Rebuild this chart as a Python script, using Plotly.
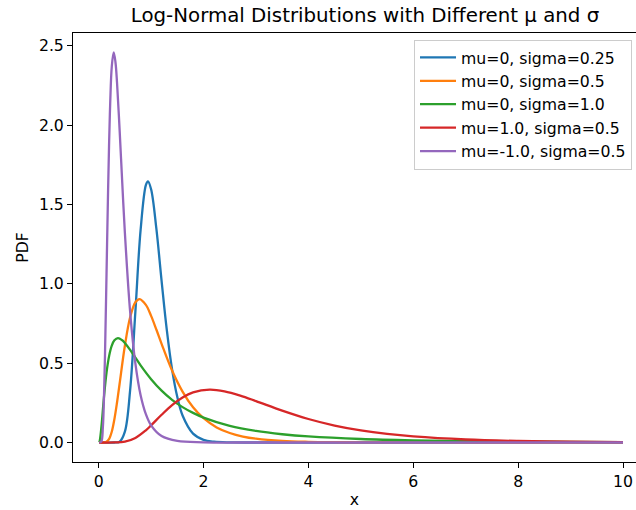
import plotly.graph_objects as go

# Values (PDF of each log-normal)
x_mu0_s025 = [0.01, 0.3, 0.4, 0.5, 0.6, 0.7, 0.8, 0.9, 0.94, 1.0, 1.1, 1.2, 1.3, 1.4, 1.5, 1.6, 1.8, 2.0, 2.2, 2.5, 3.0, 10.0]
y_mu0_s025 = [0.0, 0.0, 0.0048, 0.068, 0.330, 0.824, 1.340, 1.622, 1.646, 1.596, 1.349, 1.019, 0.708, 0.461, 0.286, 0.170, 0.056, 0.017, 0.005, 0.0008, 0.0, 0.0]

x_mu0_s05 = [0.01, 0.1, 0.15, 0.2, 0.25, 0.3, 0.35, 0.4, 0.5, 0.6, 0.7, 0.78, 0.9, 1.0, 1.1, 1.2, 1.4, 1.6, 1.8, 2.0, 2.25, 2.5, 2.75, 3.0, 3.5, 4.0, 4.5, 5.0, 6.0, 10.0]
y_mu0_s05 = [0.0, 0.0002, 0.004, 0.0225, 0.068, 0.147, 0.252, 0.372, 0.610, 0.789, 0.884, 0.904, 0.867, 0.798, 0.712, 0.622, 0.454, 0.321, 0.222, 0.153, 0.095, 0.060, 0.0375, 0.024, 0.0099, 0.0043, 0.0019, 0.0009, 0.0002, 0.0]

x_mu0_s10 = [0.01, 0.02, 0.05, 0.1, 0.15, 0.2, 0.25, 0.3, 0.368, 0.45, 0.5, 0.6, 0.7, 0.8, 1.0, 1.2, 1.4, 1.6, 1.8, 2.0, 2.5, 3.0, 3.5, 4.0, 5.0, 6.0, 7.0, 8.0, 9.0, 10.0]
y_mu0_s10 = [0.001, 0.0095, 0.090, 0.2815, 0.440, 0.546, 0.610, 0.644, 0.658, 0.6445, 0.6275, 0.584, 0.535, 0.486, 0.399, 0.327, 0.269, 0.223, 0.1865, 0.157, 0.105, 0.0727, 0.052, 0.038, 0.0219, 0.0134, 0.0086, 0.0057, 0.0040, 0.0028]

x_mu1_s05 = [0.01, 0.3, 0.5, 0.7, 0.9, 1.0, 1.2, 1.4, 1.6, 1.8, 2.117, 2.4, 2.7, 3.0, 3.5, 4.0, 4.5, 5.0, 5.5, 6.0, 7.0, 8.0, 9.0, 10.0]
y_mu1_s05 = [0.0, 0.0002, 0.0052, 0.0287, 0.077, 0.108, 0.1746, 0.236, 0.284, 0.3156, 0.3326, 0.322, 0.2955, 0.261, 0.2006, 0.148, 0.1067, 0.076, 0.0537, 0.038, 0.019, 0.0097, 0.005, 0.0027]

x_mum1_s05 = [0.01, 0.05, 0.08, 0.1, 0.12, 0.15, 0.18, 0.2, 0.22, 0.25, 0.2865, 0.32, 0.35, 0.4, 0.45, 0.5, 0.6, 0.7, 0.8, 0.9, 1.0, 1.2, 1.5, 2.0, 3.0, 10.0]
y_mum1_s05 = [0.0, 0.0055, 0.095, 0.268, 0.540, 1.064, 1.595, 1.898, 2.138, 2.368, 2.458, 2.398, 2.2685, 1.967, 1.635, 1.322, 0.824, 0.498, 0.298, 0.179, 0.108, 0.0406, 0.0102, 0.0013, 0.0, 0.0]

labels = ["mu=0, sigma=0.25", "mu=0, sigma=0.5", "mu=0, sigma=1.0", "mu=1.0, sigma=0.5", "mu=-1.0, sigma=0.5"]
colors = ["#1f77b4", "#ff7f0e", "#2ca02c", "#d62728", "#9467bd"]
xs = [x_mu0_s025, x_mu0_s05, x_mu0_s10, x_mu1_s05, x_mum1_s05]
ys = [y_mu0_s025, y_mu0_s05, y_mu0_s10, y_mu1_s05, y_mum1_s05]

FONT = "DejaVu Sans"
FS = 15.7
fig = go.Figure()
for xv, yv, lab, col in zip(xs, ys, labels, colors):
    fig.add_trace(go.Scatter(x=xv, y=yv, mode="lines", name=lab,
                             line=dict(color=col, width=2.3, shape="spline", smoothing=1.0)))

axis_common = dict(showline=True, linecolor="black", linewidth=1, ticks="outside",
                   ticklen=5, tickwidth=1, tickcolor="black", showgrid=False, zeroline=False,
                   tickfont=dict(family=FONT, size=FS, color="black"))

fig.update_layout(
    width=636, height=510, autosize=False,
    margin=dict(l=73, r=0, t=33, b=48),
    paper_bgcolor="white", plot_bgcolor="white",
    font=dict(family=FONT, size=FS, color="black"),
    title=dict(text="Log-Normal Distributions with Different μ and σ", x=0.5187, xref="paper",
               xanchor="center", y=1 - 15 / 510, yref="container", yanchor="middle",
               font=dict(family=FONT, size=19.8, color="black")),
    xaxis=dict(range=[-0.4895, 10.248], tickvals=[0, 2, 4, 6, 8, 10], mirror=True,
               title=dict(text="x", standoff=4, font=dict(family=FONT, size=FS)), **axis_common),
    yaxis=dict(range=[-0.1229, 2.5806], tickvals=[0, 0.5, 1.0, 1.5, 2.0, 2.5], tickformat=".1f",
               title=dict(text="PDF", standoff=6, font=dict(family=FONT, size=FS)), **axis_common),
    legend=dict(x=0.6057, y=0.9844, xanchor="left", yanchor="top", bgcolor="rgba(255,255,255,0.8)",
                bordercolor="#cccccc", borderwidth=1, itemwidth=36,
                font=dict(family=FONT, size=FS, color="black")),
    showlegend=True,
)

fig.write_html("out.html")
